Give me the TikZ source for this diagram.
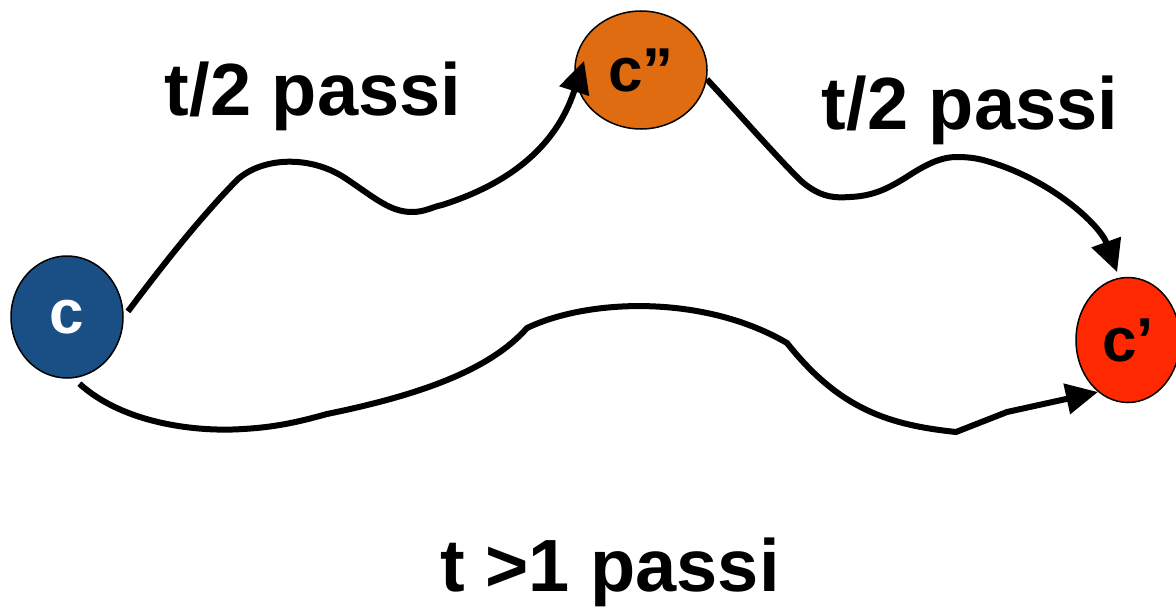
\documentclass[tikz,border=0pt]{standalone}
\usepackage{fontspec}
\setmainfont{Liberation Sans}
\usetikzlibrary{arrows.meta,shapes.geometric}

\definecolor{confblue}{RGB}{26,79,133}
\definecolor{conforange}{RGB}{224,108,18}
\definecolor{confred}{RGB}{255,40,0}

\tikzset{
  conf/.style={ellipse, draw=black, line width=0.75pt, inner sep=0pt,
    font=\fontsize{31}{36}\selectfont\bfseries},
  steps/.style={anchor=base, font=\fontsize{37}{44}\selectfont\bfseries},
}

\begin{document}
\begin{tikzpicture}[x=0.5pt,y=-0.5pt,line width=3pt,
    >={Triangle[length=16pt,width=15pt]}]
  \useasboundingbox (0,0) rectangle (1176,610);

  % configurations
  \node[conf, fill=confblue, text=white, minimum width=56pt, minimum height=61pt] (c) at (67,317) {c};
  \node[conf, fill=conforange, minimum width=66pt, minimum height=59pt] (cpp) at (641,70) {c”};
  \node[conf, fill=confred, minimum width=52pt, minimum height=62.5pt] (cp) at (1128,340) {c’};

  % labels
  \node[steps] (half1) at (313,115) {t/2 passi};
  \node[steps] (half2) at (970,129) {t/2 passi};
  \node[steps] (whole) at (610,591) {t >1 passi};

  % c -> c''
  \draw[->, shorten <=3.5pt] (c.east)
      .. controls (165,262) and (200,218) .. (237,180)
      .. controls (262,157) and (310,155) .. (345,178)
      .. controls (375,198) and (390,212) .. (412,212)
      .. controls (425,212) and (432,207) .. (442,205)
      .. controls (505,185) and (555,150) .. ([xshift=4.5pt]cpp.172);

  % c'' -> c'
  \draw[->] (cpp.-8)
      .. controls (740,115) and (775,155) .. (800,180)
      .. controls (820,198) and (835,198) .. (850,197)
      .. controls (875,196) and (890,187) .. (905,178)
      .. controls (925,165) and (940,157) .. (957,157)
      .. controls (967,157) and (975,158) .. (983,160)
      .. controls (1050,178) and (1100,225) .. ([yshift=3pt]cp.100);

  % c -> c'
  \draw[->, shorten <=4pt] (c.-84)
      .. controls (125,425) and (200,432) .. (243,429)
      .. controls (280,427) and (305,420) .. (327,414)
      .. controls (420,395) and (490,370) .. (527,328)
      .. controls (590,298) and (705,295) .. (787,343)
      .. controls (840,410) and (890,425) .. (956,432)
      -- (1007,412) -- (cp.-120);
\end{tikzpicture}
\end{document}
